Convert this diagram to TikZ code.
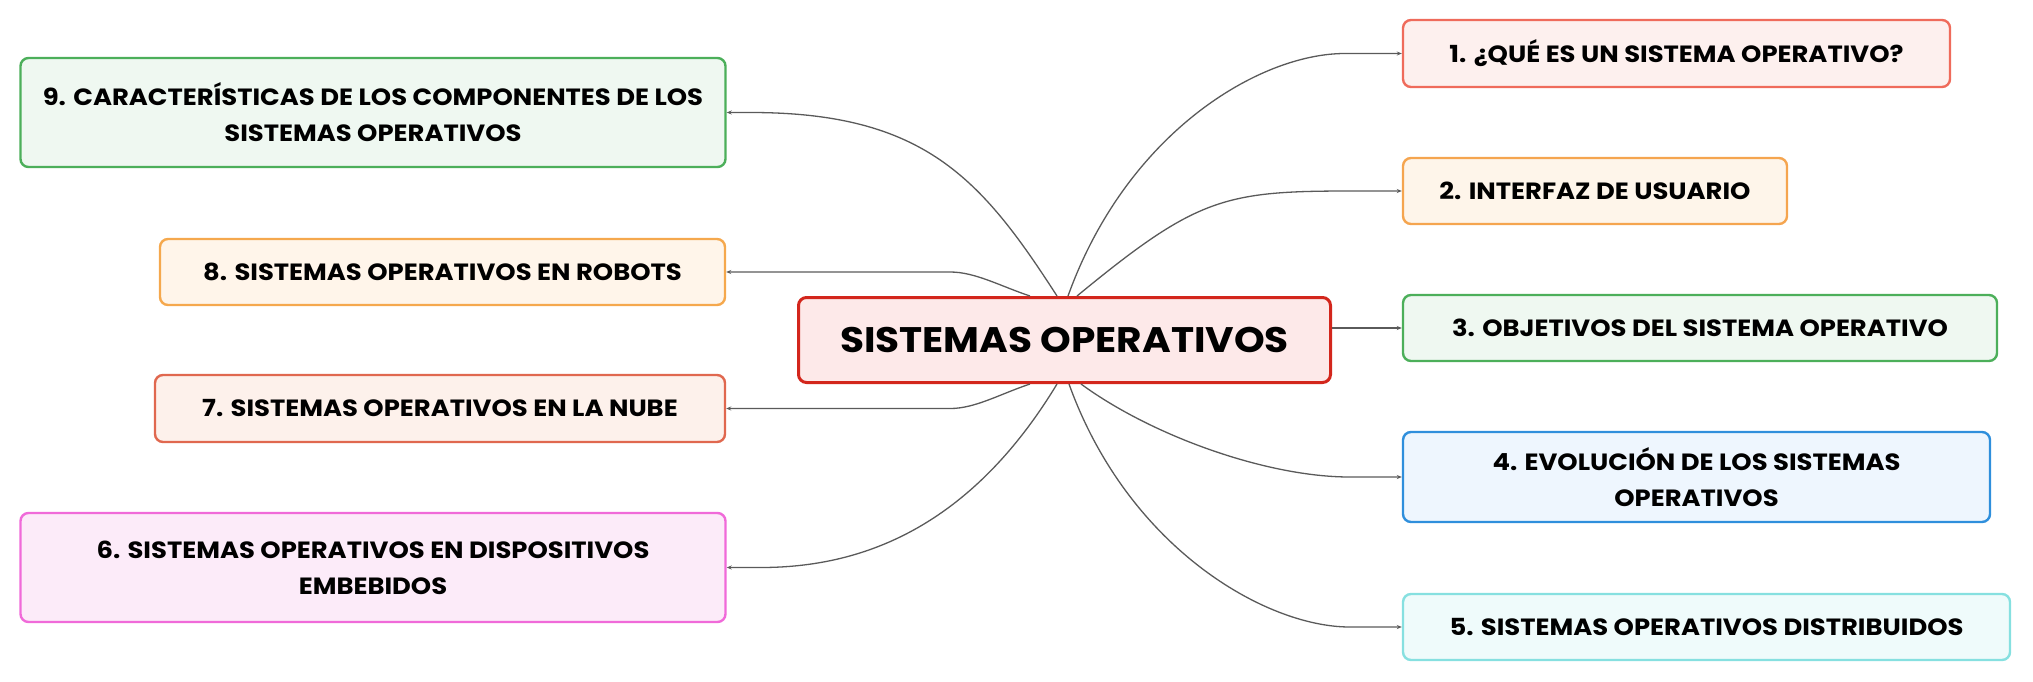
\documentclass[tikz,border=0pt]{standalone}
\usepackage{fontspec}
\setmainfont{Poppins}[FakeStretch=1.1]
\usepackage{tikz}
\usetikzlibrary{arrows.meta}

\definecolor{c0}{HTML}{D3261C}\definecolor{f0}{HTML}{FDE9E9}
\definecolor{c1}{HTML}{EF6B5B}\definecolor{f1}{HTML}{FDF0EE}
\definecolor{c2}{HTML}{F5A54F}\definecolor{f2}{HTML}{FEF5EA}
\definecolor{c3}{HTML}{4CAF5A}\definecolor{f3}{HTML}{EFF8F1}
\definecolor{c4}{HTML}{2F8FDC}\definecolor{f4}{HTML}{EEF6FE}
\definecolor{c5}{HTML}{86E0E0}\definecolor{f5}{HTML}{EFFBFB}
\definecolor{c6}{HTML}{F06AD9}\definecolor{f6}{HTML}{FCEBF9}
\definecolor{c7}{HTML}{E0684F}\definecolor{f7}{HTML}{FDF1EB}
\definecolor{c8}{HTML}{F5A84D}\definecolor{f8}{HTML}{FFF5EA}
\definecolor{c9}{HTML}{4CAF5A}\definecolor{f9}{HTML}{EFF8F1}
\definecolor{linkgray}{HTML}{5A5A5A}

\begin{document}
\begin{tikzpicture}[x=1pt,y=-1pt]
        \useasboundingbox (0,0) rectangle (2033,681);
        \begin{scope}[every node/.style={rounded corners=8pt,line width=2.4pt,inner sep=0pt,align=center,
            font=\bfseries\fontsize{23.5}{36}\selectfont}]
            \node[draw=c0,fill=f0,line width=3pt,minimum width=532pt,minimum height=85pt,
                font=\bfseries\fontsize{35.5}{40}\selectfont] (0) at (1064.5,340) {SISTEMAS OPERATIVOS};
            \node[draw=c1,fill=f1,minimum width=547pt,minimum height=67pt] (1) at (1676.5,53.5) {1. ¿QUÉ ES UN SISTEMA OPERATIVO?};
            \node[draw=c2,fill=f2,minimum width=384pt,minimum height=66pt] (2) at (1595,191) {2. INTERFAZ DE USUARIO};
            \node[draw=c3,fill=f3,minimum width=594pt,minimum height=66pt] (3) at (1700,328) {3. OBJETIVOS DEL SISTEMA OPERATIVO};
            \node[draw=c4,fill=f4,minimum width=587pt,minimum height=90pt] (4) at (1696.5,477) {4. EVOLUCIÓN DE LOS SISTEMAS\\OPERATIVOS};
            \node[draw=c5,fill=f5,minimum width=607pt,minimum height=66pt] (5) at (1706.5,627) {5. SISTEMAS OPERATIVOS DISTRIBUIDOS};
            \node[draw=c6,fill=f6,minimum width=705pt,minimum height=109pt] (6) at (373,567.5) {6. SISTEMAS OPERATIVOS EN DISPOSITIVOS\\EMBEBIDOS};
            \node[draw=c7,fill=f7,minimum width=570pt,minimum height=67pt] (7) at (440,408.5) {7. SISTEMAS OPERATIVOS EN LA NUBE};
            \node[draw=c8,fill=f8,minimum width=565pt,minimum height=66pt] (8) at (442.5,272) {8. SISTEMAS OPERATIVOS EN ROBOTS};
            \node[draw=c9,fill=f9,minimum width=705pt,minimum height=109pt] (9) at (373,112.5) {9. CARACTERÍSTICAS DE LOS COMPONENTES DE LOS\\SISTEMAS OPERATIVOS};
        \end{scope}
        \begin{scope}[>={Stealth[length=5pt,width=4pt]},
            every path/.style={draw=linkgray,line width=1.3pt}]
                    \draw[->] ([xshift=3.5pt]0.north) .. controls +(59,-164) and +(-85,0) .. ([xshift=-57pt]1.west) -- (1.west);
                    \draw[->] ([xshift=12.5pt]0.north) .. controls +(119,-98) and +(-126,0) .. ([xshift=-52pt]2.west) -- (2.west);
                    \draw[->] ([yshift=12pt]0.east) -- (3.west);
                    \draw[->] ([xshift=16.5pt]0.south) .. controls +(71,52) and +(-83,0) .. ([xshift=-52pt]4.west) -- (4.west);
                    \draw[->] ([xshift=4.5pt]0.south) .. controls +(59,164) and +(-84,0) .. ([xshift=-52pt]5.west) -- (5.west);
                    \draw[->] ([xshift=-7.5pt]0.south) .. controls +(-92,152) and +(91,0) .. ([xshift=34pt]6.east) -- (6.east);
                    \draw[->] ([xshift=-34.5pt]0.south) .. controls +(-30,10) and +(25,0) .. ([xshift=224pt]7.east) -- (7.east);
                    \draw[->] ([xshift=-34.5pt]0.north) .. controls +(-30,-10) and +(25,0) .. ([xshift=224pt]8.east) -- (8.east);
                    \draw[->] ([xshift=-7.5pt]0.north) .. controls +(-76,-118) and +(173,0) .. ([xshift=24pt]9.east) -- (9.east);
        \end{scope}
\end{tikzpicture}
\end{document}
